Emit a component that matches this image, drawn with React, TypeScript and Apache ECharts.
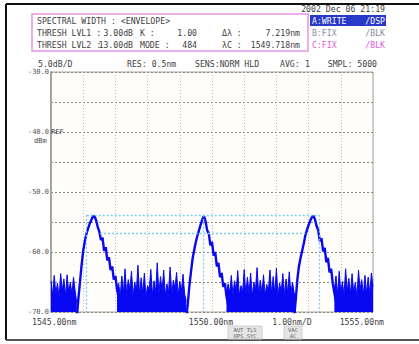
import React, { useEffect, useRef } from 'react';
import * as echarts from 'echarts';

const X_MIN = 1545.0;
const X_MAX = 1555.0;
const Y_MIN = -70;
const Y_MAX = -30;
const STEP = 0.05; // nm between samples of the arrays below

const xTickLabels = ['1545.00nm', '1550.00nm', '1.00nm/D', '1555.00nm'];

// noise floor segments (dBm), sampled every STEP nm from their start wavelength
const noiseStarts = [1545.0, 1547.05, 1550.45, 1553.8];
const noiseA = [-64.8, -67.2, -63.9, -66.9, -65.2, -67.6, -63.6, -66.4, -64.5, -67.3, -63.8, -66.8, -65.0, -67.0, -64.2, -66.5, -68.5];
const noiseB = [-66.5, -65.2, -67.3, -64.0, -66.8, -62.8, -67.0, -64.6, -66.2, -63.2, -67.4, -65.0, -66.6, -62.2, -67.1, -64.3, -66.9, -63.5, -67.5, -65.6, -66.3, -62.9, -67.2, -64.8, -66.7, -61.8, -67.0, -64.1, -66.4, -63.0, -67.3, -65.3, -66.8, -62.5, -67.1, -64.7, -66.0, -63.4, -67.2, -64.9, -66.5, -63.7, -67.0, -68.2];
const noiseC = [-67.0, -65.3, -66.8, -63.9, -67.2, -64.8, -66.4, -63.1, -67.3, -65.6, -66.7, -62.9, -67.0, -64.2, -66.9, -63.5, -67.4, -65.0, -66.3, -62.6, -67.1, -64.7, -66.8, -63.8, -67.2, -65.4, -66.5, -63.0, -67.0, -64.1, -66.9, -62.7, -67.3, -65.2, -66.6, -63.6, -67.1, -64.5, -66.7, -63.3, -67.0, -65.0, -66.8, -68.0];
const noiseD = [-66.4, -64.0, -67.1, -63.2, -66.8, -64.9, -67.3, -62.8, -66.5, -64.4, -67.0, -63.6, -66.7, -65.1, -67.4, -63.0, -66.2, -64.6, -67.2, -63.9, -66.9, -64.2, -67.0, -63.5, -65.8];

// the three channel peaks (dBm), sampled every STEP nm from their start wavelength
const peakStarts = [1545.8, 1549.2, 1552.55];
const peak1 = [-71, -67.8, -65.0, -62.2, -59.8, -58.2, -57.0, -56.1, -55.3, -54.7, -54.1, -54.0, -54.7, -55.8, -56.6, -58.0, -57.6, -59.8, -59.2, -61.4, -60.9, -63.0, -62.4, -64.6, -64.0, -66.2, -67.5];
const peak2 = [-71, -68.5, -65.5, -63.2, -61.0, -59.6, -58.3, -57.2, -56.3, -55.4, -54.6, -54.0, -54.9, -56.4, -56.9, -58.9, -58.3, -60.6, -60.0, -62.4, -61.8, -64.2, -63.5, -65.8, -65.2, -67.4, -68.8];
const peak3 = [-71, -68.0, -64.6, -62.4, -61.0, -59.8, -58.6, -57.2, -56.3, -55.5, -54.8, -54.2, -54.0, -54.6, -55.7, -56.4, -58.2, -57.7, -59.9, -59.3, -61.7, -61.0, -63.4, -62.8, -65.2, -66.8, -68.3];

// spectral width (envelope) analysis results
const LAMBDA_C = 1549.718;
const DELTA_LAMBDA = 7.219;
const PEAK_LEVEL = -53.8;
const THRESH_LVL1 = 3.0;
const threshSpan = [1546.52, 1552.9];

// ---------- helpers ----------
const toPairs = (start: number, vals: number[]) =>
  vals.map((v, i) => [Math.round((start + i * STEP) * 1000) / 1000, v]);

const BLUE = '#0808f2';
const MONO = '"DejaVu Sans Mono", "Liberation Mono", monospace';

const txt = (x: number, y: number, text: string, o: any = {}) => ({
  type: 'text',
  x,
  y,
  z: 10,
  style: {
    text,
    fontFamily: MONO,
    fontSize: o.size || 8.2,
    fill: o.fill || '#3e3e3e',
    align: o.align || 'left',
    verticalAlign: 'middle',
  },
});

export default function App() {
  const ref = useRef<HTMLDivElement>(null);

  useEffect(() => {
    document.body.style.margin = '0';
    if (!ref.current) return;
    const chart = echarts.init(ref.current, undefined, { renderer: 'svg' });

    const l1 = LAMBDA_C - DELTA_LAMBDA / 2;
    const l2 = LAMBDA_C + DELTA_LAMBDA / 2;

    const noiseSeries = [noiseA, noiseB, noiseC, noiseD].map((vals, i) => ({
      type: 'line',
      data: toPairs(noiseStarts[i], vals),
      showSymbol: false,
      symbol: 'none',
      lineStyle: { color: BLUE, width: 1 },
      areaStyle: { color: BLUE, opacity: 1, origin: 'start' },
      z: 3,
    }));

    const peakSeries = [peak1, peak2, peak3].map((vals, i) => ({
      type: 'line',
      data: toPairs(peakStarts[i], vals),
      showSymbol: false,
      symbol: 'none',
      lineStyle: { color: BLUE, width: 2.4 },
      z: 4,
    }));

    const markerSeries = {
      type: 'line',
      data: [[LAMBDA_C, Y_MIN - 10]],
      showSymbol: false,
      symbol: 'none',
      lineStyle: { opacity: 0 },
      z: 2,
      markLine: {
        silent: true,
        symbol: ['none', 'none'],
        label: { show: false },
        lineStyle: { color: '#7ccdf2', type: [2, 2], width: 1.3 },
        data: [
          [{ coord: [l1, PEAK_LEVEL] }, { coord: [l2, PEAK_LEVEL] }],
          [{ coord: [threshSpan[0], PEAK_LEVEL - THRESH_LVL1] }, { coord: [threshSpan[1], PEAK_LEVEL - THRESH_LVL1] }],
          [{ coord: [l1, PEAK_LEVEL] }, { coord: [l1, Y_MIN] }],
          [{ coord: [l2, PEAK_LEVEL] }, { coord: [l2, Y_MIN] }],
          [{ coord: [LAMBDA_C, PEAK_LEVEL] }, { coord: [LAMBDA_C, Y_MIN] }],
        ],
      },
    };

    const graphic: any[] = [
      // outer frame
      { type: 'line', shape: { x1: 6, y1: 4, x2: 419, y2: 4 }, style: { stroke: '#111', lineWidth: 2 } },
      { type: 'line', shape: { x1: 6, y1: 4, x2: 6, y2: 340 }, style: { stroke: '#111', lineWidth: 2 } },
      { type: 'line', shape: { x1: 6, y1: 340, x2: 419, y2: 340 }, style: { stroke: '#555', lineWidth: 2 } },
      // header
      txt(385, 9, '2002 Dec 06 21:19', { align: 'right' }),
      { type: 'rect', shape: { x: 32, y: 14, width: 276, height: 37 }, style: { fill: 'none', stroke: '#e592e5', lineWidth: 1.5 } },
      txt(37, 21, 'SPECTRAL WIDTH : <ENVELOPE>'),
      txt(37, 33, 'THRESH LVL1 :'),
      txt(133, 33, '3.00dB', { align: 'right' }),
      txt(140, 33, 'K :'),
      txt(197, 33, '1.00', { align: 'right' }),
      txt(222, 33, 'Δλ :'),
      txt(300, 33, '7.219nm', { align: 'right' }),
      txt(37, 45, 'THRESH LVL2 :'),
      txt(133, 45, '13.00dB', { align: 'right' }),
      txt(140, 45, 'MODE :'),
      txt(197, 45, '484', { align: 'right' }),
      txt(222, 45, 'λC :'),
      txt(300, 45, '1549.718nm', { align: 'right' }),
      // trace status
      { type: 'rect', shape: { x: 310, y: 15, width: 76, height: 11 }, style: { fill: '#2838c8' } },
      txt(312, 21, 'A:WRITE', { fill: '#ffffff' }),
      txt(385, 21, '/DSP', { fill: '#ffffff', align: 'right' }),
      txt(312, 33, 'B:FIX', { fill: '#8a8aa8' }),
      txt(385, 33, '/BLK', { fill: '#8a8aa8', align: 'right' }),
      txt(312, 45, 'C:FIX', { fill: '#e060e0' }),
      txt(385, 45, '/BLK', { fill: '#e060e0', align: 'right' }),
      // settings row
      txt(38, 64, '5.0dB/D'),
      txt(127, 64, 'RES: 0.5nm'),
      txt(195, 64, 'SENS:NORM HLD'),
      txt(280, 64, 'AVG:'),
      txt(305, 64, '1'),
      txt(377, 64, 'SMPL: 5000', { align: 'right' }),
      // ref level annotation
      txt(51, 132, 'REF', { size: 7 }),
      txt(34, 141, 'dBm', { size: 7 }),
      // x labels
      txt(32, 322, xTickLabels[0]),
      txt(211, 322, xTickLabels[1], { align: 'center' }),
      txt(292, 322, xTickLabels[2], { align: 'center' }),
      txt(384, 322, xTickLabels[3], { align: 'right' }),
      // soft keys
      { type: 'rect', shape: { x: 228, y: 326, width: 34, height: 13 }, style: { fill: '#e4e4e4', stroke: '#cfcfcf', lineWidth: 1 } },
      txt(245, 329.5, 'AUT TLS', { size: 5.5, align: 'center', fill: '#666' }),
      txt(245, 335.5, 'OPS SYC', { size: 5.5, align: 'center', fill: '#666' }),
      { type: 'rect', shape: { x: 284, y: 326, width: 18, height: 13 }, style: { fill: '#e4e4e4', stroke: '#cfcfcf', lineWidth: 1 } },
      txt(293, 329.5, 'VAC', { size: 5.5, align: 'center', fill: '#666' }),
      txt(293, 335.5, 'AC', { size: 5.5, align: 'center', fill: '#666' }),
    ];

    chart.setOption({
      animation: false,
      backgroundColor: '#ffffff',
      grid: {
        left: 51,
        right: 46,
        top: 72,
        bottom: 32,
        show: true,
        borderColor: '#aaa49c',
        borderWidth: 1,
        backgroundColor: '#fffefb',
      },
      xAxis: {
        type: 'value',
        min: X_MIN,
        max: X_MAX,
        interval: 1,
        axisLine: { show: false },
        axisTick: { show: false },
        axisLabel: { show: false },
        splitLine: { show: true, lineStyle: { color: '#b9b9b9', type: [1, 2], width: 1 } },
      },
      yAxis: {
        type: 'value',
        min: Y_MIN,
        max: Y_MAX,
        interval: 5,
        axisLine: { show: true, lineStyle: { color: '#a9a39c', width: 2 } },
        axisTick: { show: false },
        axisLabel: {
          margin: 2,
          fontFamily: MONO,
          fontSize: 7,
          color: '#555',
          formatter: (v: number) => (v % 10 === 0 ? v.toFixed(1) : ''),
        },
        splitLine: { show: true, lineStyle: { color: '#8f8578', type: [2, 2], width: 1 } },
      },
      series: [markerSeries, ...noiseSeries, ...peakSeries],
      graphic,
    });

    return () => chart.dispose();
  }, []);

  return <div ref={ref} style={{ width: 419, height: 344 }} />;
}
